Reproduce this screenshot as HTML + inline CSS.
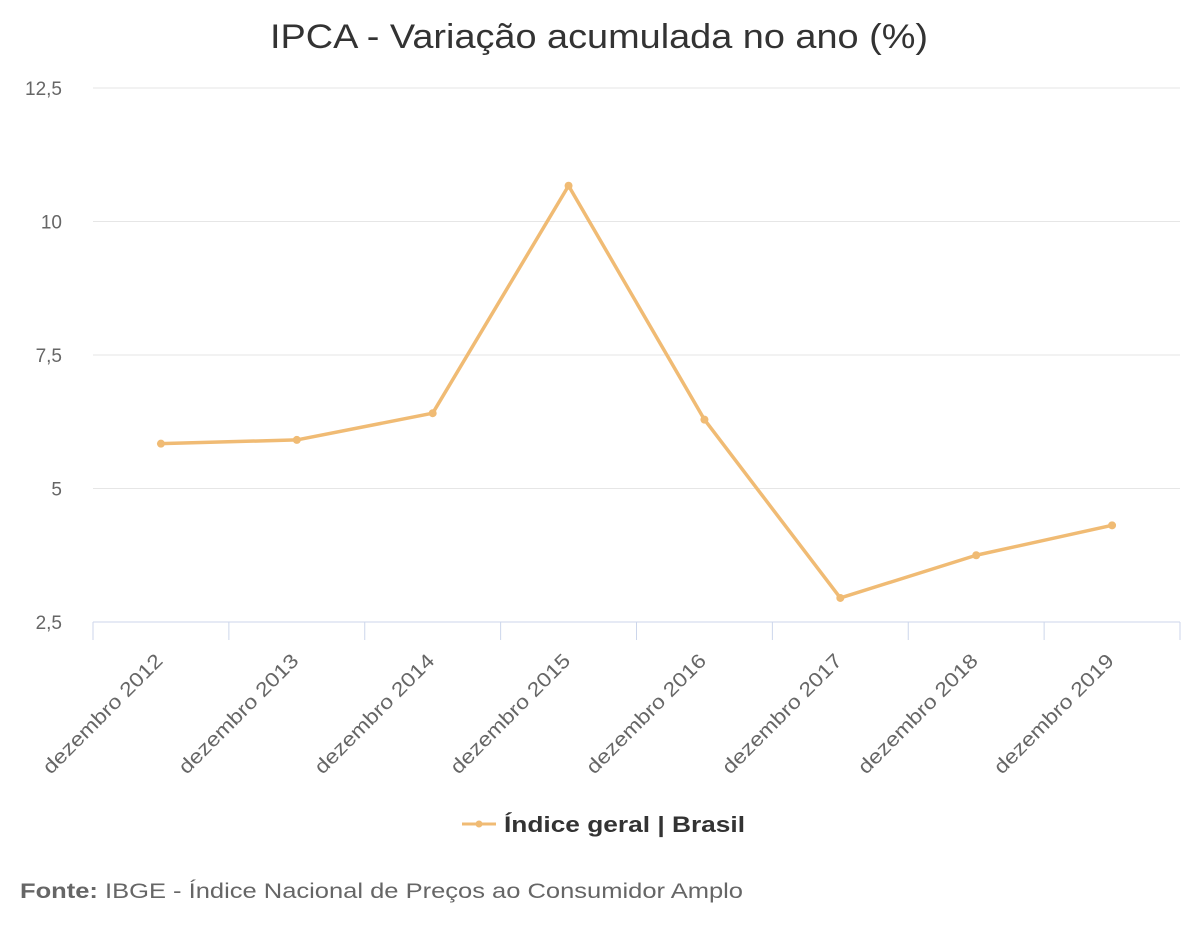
<!DOCTYPE html>
<html><head><meta charset="utf-8"><style>
body{margin:0;background:#fff;width:1200px;height:935px;overflow:hidden;font-family:"Liberation Sans",sans-serif}
</style></head><body>
<svg id="chart" width="1200" height="935" xmlns="http://www.w3.org/2000/svg">
<text x="270" y="48" textLength="658" lengthAdjust="spacingAndGlyphs" font-size="34" fill="#333">IPCA - Variação acumulada no ano (%)</text>
<g id="grid"></g><g id="xaxis"></g><g id="series"></g>
<g>
<line x1="462" y1="824" x2="496" y2="824" stroke="#f0bb74" stroke-width="3"/>
<circle cx="479" cy="824" r="3.5" fill="#f0bb74"/>
<text x="504" y="832" textLength="241" lengthAdjust="spacingAndGlyphs" font-size="22" font-weight="bold" fill="#333">Índice geral | Brasil</text>
</g>
<text x="20" y="898" textLength="723" lengthAdjust="spacingAndGlyphs" font-size="21" fill="#666"><tspan font-weight="bold">Fonte:</tspan> IBGE - Índice Nacional de Preços ao Consumidor Amplo</text>
</svg>
<script>
const categories=["dezembro 2012","dezembro 2013","dezembro 2014","dezembro 2015","dezembro 2016","dezembro 2017","dezembro 2018","dezembro 2019"];
const values=[5.84,5.91,6.41,10.67,6.29,2.95,3.75,4.31];
const yTicks=[2.5,5,7.5,10,12.5];
const yTickLabels=["2,5","5","7,5","10","12,5"];
const NS="http://www.w3.org/2000/svg";
const x0=93,x1=1180,yTop=88,yBot=622,yMin=2.5,yMax=12.5;
const bw=(x1-x0)/categories.length;
const X=i=>x0+bw*(i+0.5);
const Y=v=>yBot-(v-yMin)/(yMax-yMin)*(yBot-yTop);
function mk(t,a,p){const e=document.createElementNS(NS,t);for(const k in a)e.setAttribute(k,a[k]);p.appendChild(e);return e;}
const grid=document.getElementById('grid');
yTicks.forEach((v,i)=>{
 const l=mk('line',{x1:x0,x2:x1,y1:Y(v),y2:Y(v),stroke:i===0?'#ccd6eb':'#e6e6e6','stroke-width':1},grid);
 
 
 const t=mk('text',{x:62,y:Y(v)+7,'text-anchor':'end','font-size':19,fill:'#666'},grid);
 t.textContent=yTickLabels[i];
 
 
});
const xa=document.getElementById('xaxis');
for(let i=0;i<=categories.length;i++){
 const tk=mk('line',{x1:x0+bw*i,x2:x0+bw*i,y1:yBot,y2:yBot+18,stroke:'#ccd6eb'},xa);
 
 
}
categories.forEach((c,i)=>{
 const ax=X(i)+3,ay=yBot+40;
 const t=mk('text',{x:ax,y:ay,'text-anchor':'end','font-size':20,fill:'#666',textLength:160,lengthAdjust:'spacingAndGlyphs',transform:`rotate(-45 ${ax} ${ay})`},xa);
 t.textContent=c;
 
 
});
const s=document.getElementById('series');
const path=mk('polyline',{points:values.map((v,i)=>X(i)+','+Y(v)).join(' '),fill:'none',stroke:'#f0bb74','stroke-width':3.5,'stroke-linejoin':'round'},s);


values.forEach((v,i)=>{
 const c=mk('circle',{cx:X(i),cy:Y(v),r:4,fill:'#f0bb74'},s);
 
 
});
</script>
</body></html>
